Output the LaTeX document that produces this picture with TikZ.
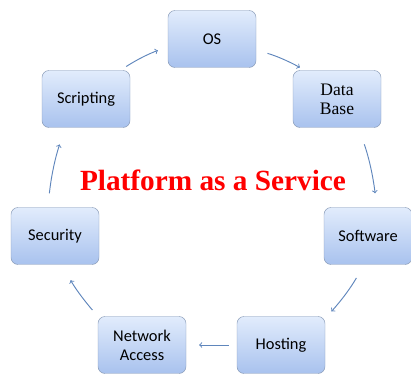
\documentclass[tikz,border=0pt]{standalone}
\usepackage{fontspec}
\setmainfont{Liberation Serif}
\setsansfont{Carlito}
\definecolor{boxtop}{HTML}{E2ECFC}
\definecolor{boxbot}{HTML}{A8C2EE}
\definecolor{boxline}{HTML}{8497B4}
\definecolor{arrowcol}{HTML}{5F86BC}
\tikzset{
    unit/.style={draw=boxline, rounded corners=6pt, top color=boxtop, bottom color=boxbot,
        minimum width=88*0.03cm, minimum height=57*0.03cm, align=center,
        font=\sffamily\fontsize{14}{16}\selectfont},
    flow/.style={->, draw=arrowcol, line width=0.8pt}
}
\begin{document}
\begin{tikzpicture}[x=0.03cm,y=-0.03cm]
    \useasboundingbox (0,0) rectangle (411,374);
    \node[unit] (os) at (212,39) {OS};
    \node[unit, font=\rmfamily\fontsize{15}{16}\selectfont] (db) at (337,99) {Data\\Base};
    \node[unit] (software) at (368,236) {Software};
    \node[unit] (hosting) at (281,345) {Hosting};
    \node[unit] (network) at (142,345) {Network\\Access};
    \node[unit] (security) at (55,236) {Security};
    \node[unit] (scripting) at (86,99) {Scripting};
    \node[text=red, font=\rmfamily\bfseries\fontsize{25}{28}\selectfont] (title) at (213,180) {Platform as a Service};
    \draw[flow, shorten <=6pt, shorten >=9pt] (scripting.40) to[bend left=6] (os.190);
    \draw[flow, shorten <=10pt, shorten >=5pt] (os.-14) to[bend left=6] (db.138);
    \draw[flow, shorten <=15pt, shorten >=12pt] (db.-53) to[bend left=6] (software.73);
    \draw[flow, shorten <=13pt, shorten >=8pt] (software.-98) to[bend left=6] (hosting.31);
    \draw[flow, shorten <=7pt, shorten >=11pt] (hosting.west) to (network.east);
    \draw[flow, shorten <=7pt, shorten >=15pt] (network.147) to[bend left=6] (security.-76);
    \draw[flow, shorten <=12pt, shorten >=15pt] (security.104) to[bend left=6] (scripting.-126);
\end{tikzpicture}
\end{document}
